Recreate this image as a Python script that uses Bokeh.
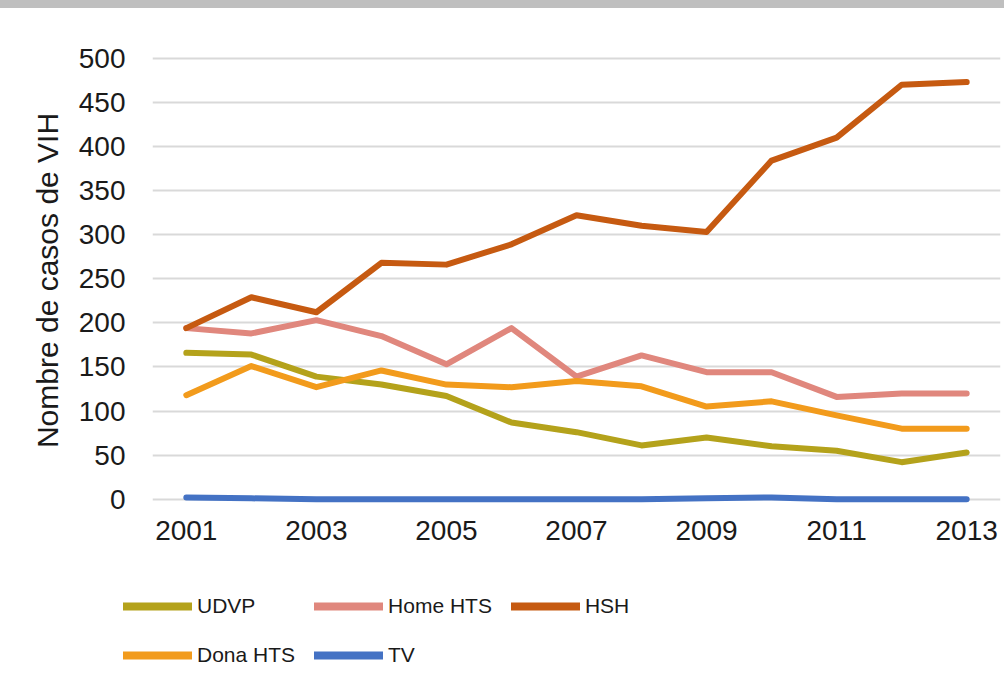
from bokeh.plotting import figure
from bokeh.models import Range1d, FixedTicker, Legend, LegendItem, Div
from bokeh.layouts import column
from bokeh.embed import file_html
from bokeh.resources import INLINE

years = list(range(2001, 2014))
udvp = [166, 164, 139, 130, 117, 87, 76, 61, 70, 60, 55, 42, 53]
home_hts = [194, 188, 203, 185, 153, 194, 139, 163, 144, 144, 116, 120, 120]
hsh = [194, 229, 212, 268, 266, 289, 322, 310, 303, 384, 410, 470, 473]
dona_hts = [118, 151, 127, 146, 130, 127, 134, 128, 105, 111, 95, 80, 80]
tv = [2, 1, 0, 0, 0, 0, 0, 0, 1, 2, 0, 0, 0]

series_names = ["UDVP", "Home HTS", "HSH", "Dona HTS", "TV"]
series_values = [udvp, home_hts, hsh, dona_hts, tv]
series_colors = ["#B4A21B", "#E0877D", "#C65A11", "#F29B1C", "#4472C4"]

x_ticks = [2001, 2003, 2005, 2007, 2009, 2011, 2013]
y_ticks = list(range(0, 501, 50))

FONT = "Liberation Sans"
TXT = "#1a1a1a"

bar = Div(text="", width=1004, height=8, margin=0,
          styles={"background-color": "#bfbfbf"})

p = figure(width=1004, height=552, output_backend="svg", toolbar_location=None,
           x_range=Range1d(2000.48, 2013.52), y_range=Range1d(-6, 502),
           min_border_left=152, min_border_right=4, min_border_top=48,
           min_border_bottom=56)
p.frame_align = False
p.outline_line_color = None
p.background_fill_color = "white"
p.border_fill_color = "white"

p.xgrid.grid_line_color = None
p.ygrid.grid_line_color = "#d9d9d9"
p.ygrid.grid_line_width = 2
p.ygrid.ticker = FixedTicker(ticks=y_ticks)

p.xaxis.ticker = FixedTicker(ticks=x_ticks)
p.yaxis.ticker = FixedTicker(ticks=y_ticks)
for ax in (p.xaxis[0], p.yaxis[0]):
    ax.axis_line_color = None
    ax.major_tick_line_color = None
    ax.minor_tick_line_color = None
    ax.major_tick_out = 0
    ax.major_tick_in = 0
    ax.minor_tick_out = 0
    ax.major_label_text_font = FONT
    ax.major_label_text_font_size = "28px"
    ax.major_label_text_color = TXT
p.xaxis.major_label_standoff = 16
p.yaxis.major_label_standoff = 27
p.yaxis.axis_label = "Nombre de casos de VIH"
p.yaxis.axis_label_text_font = FONT
p.yaxis.axis_label_text_font_size = "30px"
p.yaxis.axis_label_text_font_style = "normal"
p.yaxis.axis_label_text_color = TXT
p.yaxis.axis_label_standoff = 12

for name, vals, col in zip(series_names, series_values, series_colors):
    p.line(years, vals, line_color=col, line_width=6, line_join="round", line_cap="round")

# legend panel below the chart (same series, out of its visible range)
p2 = figure(width=1004, height=124, output_backend="svg", toolbar_location=None,
            x_range=Range1d(0, 1), y_range=Range1d(0, 1),
            x_axis_location=None, y_axis_location=None,
            min_border_left=0, min_border_right=0, min_border_top=0,
            min_border_bottom=0)
p2.frame_align = False
p2.outline_line_color = None
p2.xgrid.visible = False
p2.ygrid.visible = False
leg_renderers = [p2.line(years, vals, line_color=col, line_width=8, line_cap="round")
                 for vals, col in zip(series_values, series_colors)]
items = [LegendItem(label=n, renderers=[r]) for n, r in zip(series_names, leg_renderers)]
legend = Legend(items=items, location=(123, 14), orientation="horizontal", ncols=3,
                glyph_width=69, glyph_height=30, label_height=30, label_standoff=5,
                spacing=19, padding=0, margin=0, border_line_color=None,
                background_fill_alpha=0,
                label_text_font=FONT, label_text_font_size="21px", label_text_color=TXT)
p2.add_layout(legend)

open("out.html", "w").write(file_html(column(bar, p, p2, spacing=0), INLINE))
